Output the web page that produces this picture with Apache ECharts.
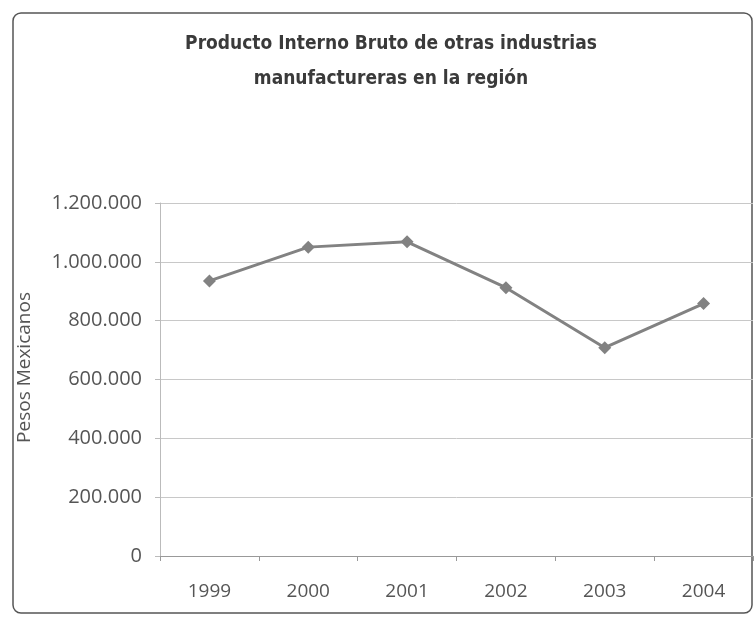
<!DOCTYPE html>
<html>
<head>
<meta charset="utf-8">
<script src="https://cdn.jsdelivr.net/npm/echarts@6/dist/echarts.min.js"></script>
<style>html,body{margin:0;padding:0;background:#fff}#c{width:756px;height:622px}</style>
</head>
<body>
<div id="c"></div>
<script>
var titleLines = ['Producto Interno Bruto de otras industrias', 'manufactureras en la región'];
var yAxisName = 'Pesos Mexicanos';
var categories = ['1999', '2000', '2001', '2002', '2003', '2004'];
var values = [935000, 1050000, 1068000, 912000, 708000, 858000];
var yTicks = [0, 200000, 400000, 600000, 800000, 1000000, 1200000];

function fmt(v) {
  return String(v).replace(/\B(?=(\d{3})+(?!\d))/g, '.');
}

var chart = echarts.init(document.getElementById('c'), null, {renderer: 'canvas'});
chart.setOption({
  animation: false,
  backgroundColor: '#fff',
  title: {
    text: titleLines.join('\n'),
    left: 386,
    top: 22,
    textAlign: 'center',
    textStyle: {
      fontFamily: "'Liberation Sans Narrow', 'DejaVu Sans Condensed', 'Roboto Condensed', 'Liberation Sans', sans-serif",
      fontWeight: 'bold',
      fontSize: 19,
      lineHeight: 35,
      color: '#3a3a3a'
    }
  },
  graphic: [{
    type: 'rect',
    shape: {x: 13, y: 13, width: 739, height: 600, r: 8},
    style: {fill: 'none', stroke: '#555', lineWidth: 1.5},
    silent: true,
    z: -1
  }],
  grid: {left: 160, right: 3, top: 203, bottom: 66},
  xAxis: {
    type: 'category',
    data: categories,
    boundaryGap: true,
    axisLine: {lineStyle: {color: '#999', width: 1}},
    axisTick: {show: true, length: 5, inside: false, lineStyle: {color: '#999'}},
    axisLabel: {
      margin: 26,
      fontFamily: "'Open Sans', 'Liberation Sans', sans-serif",
      fontSize: 19,
      color: '#555'
    }
  },
  yAxis: {
    type: 'value',
    min: yTicks[0],
    max: yTicks[yTicks.length - 1],
    interval: yTicks[1] - yTicks[0],
    name: yAxisName,
    nameLocation: 'middle',
    nameGap: 126,
    nameRotate: 90,
    nameTextStyle: {
      fontFamily: "'Open Sans', 'Liberation Sans', sans-serif",
      fontSize: 19,
      color: '#555',
      padding: [0, 0, 0, 24]
    },
    axisLine: {show: true, lineStyle: {color: '#bbb'}},
    axisTick: {show: true, length: 5, lineStyle: {color: '#bbb'}},
    axisLabel: {
      margin: 18,
      formatter: fmt,
      fontFamily: "'Open Sans', 'Liberation Sans', sans-serif",
      fontSize: 20,
      color: '#555'
    },
    splitLine: {show: true, lineStyle: {color: '#c8c8c8', width: 1}}
  },
  series: [{
    type: 'line',
    data: values,
    symbol: 'diamond',
    symbolSize: 13,
    lineStyle: {color: '#828282', width: 3},
    itemStyle: {color: '#828282'}
  }]
});
</script>
</body>
</html>
